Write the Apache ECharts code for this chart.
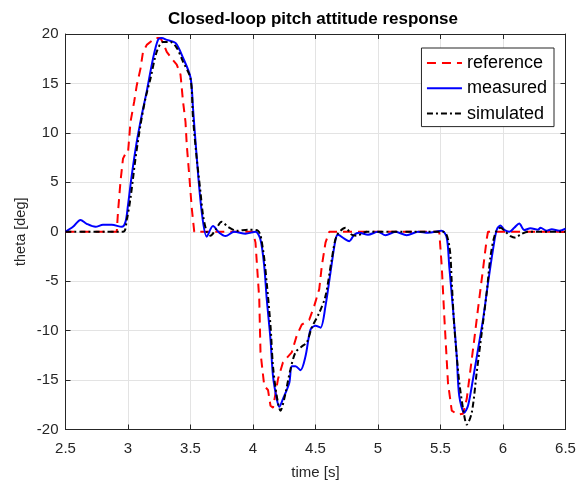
<!DOCTYPE html>
<html><head><meta charset="utf-8">
<script src="https://cdn.jsdelivr.net/npm/echarts@6/dist/echarts.min.js"></script>
<style>html,body{margin:0;padding:0;background:#fff}#c{width:587px;height:481px}</style>
</head><body><div id="c"></div>
<script>
const refT = [2.5,2.91,2.92,2.94,2.96,2.98,3.00,3.02,3.05,3.07,3.10,3.12,3.15,3.22,3.26,3.28,3.31,3.35,3.39,3.42,3.44,3.46,3.47,3.49,3.51,3.53,4.00,4.02,4.05,4.06,4.09,4.12,4.14,4.16,4.20,4.24,4.31,4.35,4.39,4.45,4.49,4.53,4.55,4.58,4.61,5.49,5.51,5.53,5.56,5.59,5.64,5.68,5.71,5.75,5.77,5.80,5.84,5.87,5.88,6.5];
const refY = [0,0,2.0,5.1,7.4,7.9,8.0,11.1,13.2,14.8,16.5,18.2,18.9,19.6,19.6,19.1,18.2,17.5,16.9,15.9,13.2,11.1,8.8,5.7,2.4,0,0,-1.1,-6.8,-12.2,-15.6,-16,-17.6,-17.8,-14.9,-13.2,-12.2,-10.5,-9.4,-8.9,-7.5,-5.8,-3.5,-1.1,0,0,-3.5,-8.5,-15.3,-18.1,-18.5,-18.4,-16.9,-12.9,-10.9,-7.8,-3.8,-0.7,0,0];

const measT = [2.5,2.56,2.62,2.67,2.74,2.80,2.87,2.95,2.98,3.00,3.03,3.07,3.11,3.15,3.20,3.24,3.27,3.31,3.38,3.44,3.50,3.52,3.55,3.59,3.63,3.68,3.73,3.78,3.85,3.94,4.02,4.06,4.09,4.11,4.14,4.16,4.19,4.21,4.24,4.29,4.31,4.34,4.38,4.42,4.46,4.50,4.54,4.58,4.62,4.66,4.68,4.73,4.77,4.81,4.85,4.92,5.0,5.06,5.14,5.23,5.32,5.40,5.51,5.55,5.57,5.60,5.63,5.65,5.69,5.72,5.76,5.80,5.84,5.88,5.92,5.95,5.98,6.01,6.05,6.09,6.13,6.17,6.22,6.28,6.30,6.35,6.39,6.45,6.5];
const measY = [0,0.5,1.2,0.8,0.5,0.7,0.7,0.5,1.0,2.7,5.7,9.1,11.8,14.2,17.5,19.4,19.6,19.4,19.1,17.6,15.6,12.5,7.5,2.0,-0.5,0.57,-0.1,-0.44,0,-0.2,0,-0.8,-3.5,-6.8,-10.9,-14.6,-16.9,-17.7,-16.9,-15.3,-13.6,-13.6,-14.0,-12.6,-9.9,-9.5,-9.7,-7.5,-4.1,-0.8,-0.3,-0.7,-0.95,-0.3,-0.1,-0.3,0,-0.35,0,-0.35,0,-0.1,0.1,-0.6,-3.5,-7.8,-12.6,-16.6,-18.3,-17.6,-14.9,-11.9,-8.9,-5.2,-1.8,0.2,0.64,0.2,0,0.4,0.84,0.17,0.35,0.2,0.4,0.1,0.25,0.1,0.3];

const simT = [2.5,2.96,2.99,3.02,3.06,3.10,3.14,3.18,3.23,3.28,3.34,3.39,3.44,3.50,3.52,3.55,3.58,3.60,3.63,3.66,3.70,3.75,3.80,3.87,3.96,4.04,4.08,4.11,4.14,4.16,4.19,4.22,4.25,4.30,4.34,4.39,4.43,4.47,4.53,4.58,4.63,4.67,4.74,4.79,4.83,4.91,5.52,5.57,5.59,5.61,5.65,5.69,5.71,5.75,5.79,5.83,5.87,5.90,5.94,5.98,6.02,6.06,6.10,6.14,6.20,6.5];
const simY = [0,0,1.2,3.4,7.4,10.8,13.5,15.5,18.2,19.2,19.2,18.6,17.2,15.5,11.5,7.4,4.0,1.7,0,-0.4,0.2,1.0,0.5,0.1,0.2,0.1,-1.8,-5.2,-9.5,-13.6,-16.6,-18.1,-16.9,-13.9,-12.2,-11.6,-11.2,-9.7,-8.2,-6.5,-2.8,-0.4,0.4,-0.3,-0.4,0,0,-1.4,-5.1,-9.5,-15.2,-18.6,-19.5,-18.3,-14.2,-10.2,-6.1,-2.5,-0.1,0.4,0,-0.44,-0.6,-0.27,0,0];

const xTicks = {min: 2.5, max: 6.5, interval: 0.5};
const yTicks = {min: -20, max: 20, interval: 5};
const names = ['reference', 'measured', 'simulated'];

function pairs(t, y) { return t.map((v, i) => [v, y[i]]); }

const axisColor = '#262626';
const font = 'Liberation Sans, Arial, sans-serif';
const chart = echarts.init(document.getElementById('c'), null, {renderer: 'canvas'});
const baseX = {type: 'value', min: xTicks.min, max: xTicks.max, interval: xTicks.interval};
const baseY = {type: 'value', min: yTicks.min, max: yTicks.max, interval: yTicks.interval};
chart.setOption({
  animation: false,
  backgroundColor: '#fff',
  title: {text: 'Closed-loop pitch attitude response', left: 313, top: 11, textAlign: 'center', padding: 0,
    textStyle: {fontFamily: font, fontSize: 17, fontWeight: 'bold', color: '#000'}},
  grid: {left: 65.5, right: 21.5, top: 34, bottom: 51.5, containLabel: false, outerBoundsMode: 'none'},
  legend: {
    orient: 'vertical', right: 33, top: 48, data: names,
    itemWidth: 35, itemHeight: 14, itemGap: 7.3,
    itemStyle: {opacity: 0},
    backgroundColor: '#fff', borderColor: axisColor, borderWidth: 1,
    padding: [6, 7, 4, 4.5],
    textStyle: {fontFamily: font, fontSize: 18, lineHeight: 18, color: '#000'}
  },
  xAxis: [
    Object.assign({}, baseX, {
      position: 'bottom',
      name: 'time [s]', nameLocation: 'middle', nameGap: 36,
      nameTextStyle: {fontFamily: font, fontSize: 15, color: '#262626'},
      axisLine: {show: true, onZero: false, lineStyle: {color: axisColor, width: 1}},
      axisTick: {show: true, inside: true, length: 5, lineStyle: {color: axisColor}},
      axisLabel: {fontFamily: font, fontSize: 15, color: '#262626', margin: 12},
      splitLine: {show: true, lineStyle: {color: '#e3e3e3', width: 1}}
    }),
    Object.assign({}, baseX, {
      position: 'top',
      axisLine: {show: true, onZero: false, lineStyle: {color: axisColor, width: 1}},
      axisTick: {show: true, inside: true, length: 5, lineStyle: {color: axisColor}},
      axisLabel: {show: false}, splitLine: {show: false}
    })
  ],
  yAxis: [
    Object.assign({}, baseY, {
      position: 'left',
      name: 'theta [deg]', nameLocation: 'middle', nameGap: 37, nameRotate: 90, nameMoveOverlap: false,
      nameTextStyle: {fontFamily: font, fontSize: 14.5, color: '#262626'},
      axisLine: {show: true, onZero: false, lineStyle: {color: axisColor, width: 1}},
      axisTick: {show: true, inside: true, length: 5, lineStyle: {color: axisColor}},
      axisLabel: {fontFamily: font, fontSize: 15, color: '#262626', margin: 7},
      splitLine: {show: true, lineStyle: {color: '#e3e3e3', width: 1}}
    }),
    Object.assign({}, baseY, {
      position: 'right',
      axisLine: {show: true, onZero: false, lineStyle: {color: axisColor, width: 1}},
      axisTick: {show: true, inside: true, length: 5, lineStyle: {color: axisColor}},
      axisLabel: {show: false}, splitLine: {show: false}
    })
  ],
  series: [
    {name: names[0], type: 'line', data: pairs(refT, refY), symbol: 'none', showSymbol: false,
      color: '#ff0000', lineStyle: {color: '#ff0000', width: 2, type: [9, 6]}, z: 3},
    {name: names[1], type: 'line', data: pairs(measT, measY), symbol: 'none', showSymbol: false, smooth: 0.3,
      color: '#0000ff', lineStyle: {color: '#0000ff', width: 2, type: 'solid'}, z: 4},
    {name: names[2], type: 'line', data: pairs(simT, simY), symbol: 'none', showSymbol: false, smooth: 0.3,
      color: '#000000', lineStyle: {color: '#000000', width: 2, type: [6, 3, 2, 3]}, z: 5}
  ]
});
</script>
</body></html>
